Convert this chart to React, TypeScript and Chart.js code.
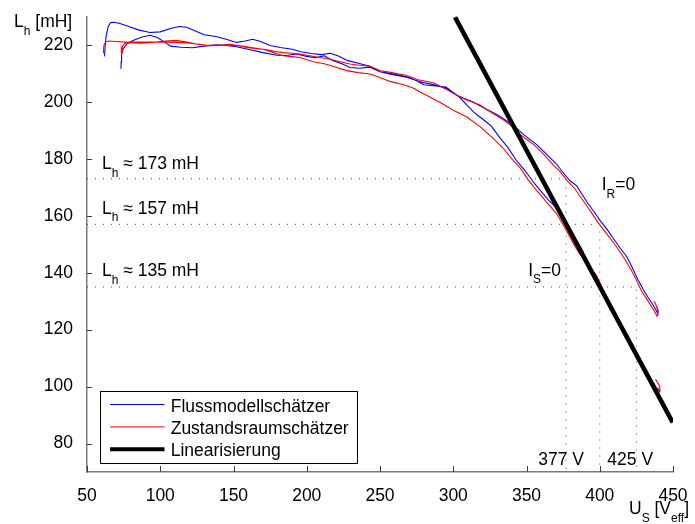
import React, { useEffect, useRef } from 'react';
import { Chart, registerables } from 'chart.js';

Chart.register(...registerables);

const FONT = '"Liberation Sans", Arial, Helvetica, sans-serif';
const MAIN_SIZE = 17.5;
const SUB_SIZE = 12;

// ---------- axes ----------
const xTicks = [50, 100, 150, 200, 250, 300, 350, 400, 450];
const yTicks = [80, 100, 120, 140, 160, 180, 200, 220];
const xRange = [50, 450];
const yRange = [70, 230];

const seriesNames = ['Flussmodellschätzer', 'Zustandsraumschätzer', 'Linearisierung'];

// ---------- Flussmodellschätzer (blue), two traces ----------
const fluss1: [number, number][] = [
  [62.0, 216.0], [62.3, 219.0], [63.0, 223.0], [64.5, 226.5], [66, 227.8], [68, 228.0], [72, 227.6],
  [78, 226.6], [85, 225.3], [93, 224.4], [100, 224.6], [107, 225.8], [113, 226.5], [118, 226.2],
  [124, 224.9], [130, 223.6], [138, 223.0], [145, 222.0], [152, 220.9], [158, 221.4], [163, 222.0],
  [168, 221.3], [175, 219.8], [182, 219.1], [190, 218.5], [196, 217.6], [203, 217.0], [210, 216.6],
  [216, 217.1], [222, 216.0], [228, 214.5], [236, 213.5], [243, 212.5], [250, 210.6], [258, 210.0],
  [265, 209.2], [270, 208.6], [276, 207.2], [280, 206.0], [288, 205.6], [295, 205.2], [300, 203.3],
  [304, 201.8], [310, 198.5], [314, 196.4], [318, 194.8], [322, 193.2], [326, 191.5], [332, 187.3],
  [337, 184.2], [343, 179.5], [348, 176.5], [352, 173.8], [356, 171.0], [360, 168.6], [365, 165.5],
  [370, 163.0], [373, 161.5], [377, 158.0], [380, 155.0], [384, 151.5], [388, 148.0], [392, 143.5],
  [396, 139.8], [400, 135.4], [405, 131.0], [410, 126.2], [415, 121.5], [420, 116.8], [425, 112.0],
  [430, 107.0], [434, 103.3], [437.5, 100.0], [440, 97.6], [441, 98.5], [439.5, 99.6],
];
const fluss2: [number, number][] = [
  [73.2, 211.6], [73.3, 214.0], [73.6, 216.5], [74.6, 218.6], [77, 220.2], [81, 221.5], [87, 222.7],
  [93, 223.4], [98, 222.6], [103, 221.0], [107, 219.6], [114, 219.2], [122, 219.0], [130, 219.6],
  [138.7, 220.1], [145, 219.8], [152, 219.4], [160, 218.5], [170, 217.3], [179.7, 216.4], [186, 216.3],
  [193, 216.8], [200, 216.0], [206, 215.5], [212, 216.2], [218, 214.5], [224, 213.4], [229.5, 212.1],
  [236, 211.8], [243, 212.2], [250, 210.6], [258, 209.6], [268, 208.7], [278, 207.0], [288.7, 205.8],
  [296, 204.5], [303, 202.2], [313.5, 200.0], [322, 197.6], [330, 195.5], [340.8, 191.9], [348, 188.5],
  [357, 185.0], [364, 181.5], [370.6, 178.1], [376, 174.5], [379.7, 172.3], [384.3, 170.5], [388, 167.5],
  [392, 164.3], [396, 161.5], [400.2, 158.4], [405, 155.2], [410, 151.5], [414, 148.6], [418.4, 145.7],
  [422, 142.0], [426, 137.6], [429.7, 134.1], [433, 131.3], [436, 128.9], [438.3, 127.0], [439.5, 125.7],
  [439.8, 126.6], [439, 127.8],
];

// ---------- Zustandsraumschätzer (red), two traces ----------
const zustand1: [number, number][] = [
  [61.6, 217.2], [61.3, 219.0], [61.8, 220.3], [62.8, 221.0], [64.5, 221.4], [70, 221.2], [78, 220.9],
  [86, 220.6], [93, 220.8], [100, 221.2], [106, 221.5], [111, 221.6], [118, 221.0], [124, 220.4],
  [129.4, 220.0], [136, 219.9], [142, 220.0], [147.6, 220.2], [153, 219.7], [159, 219.1], [165.8, 218.7],
  [172, 218.4], [178, 217.8], [183.8, 217.3], [190, 217.1], [195.4, 216.8], [202, 216.2], [208, 215.7],
  [215.9, 215.0], [222, 214.2], [229.5, 213.3], [236, 212.9], [243.2, 212.5], [250, 211.0], [258, 210.3],
  [268.2, 209.3], [276, 207.8], [286.4, 206.7], [294, 204.8], [302.4, 202.3], [310, 200.5], [318.3, 198.9],
  [326, 196.3], [334, 193.8], [340, 191.4], [347, 188.0], [355, 185.0], [362, 181.5], [368, 178.0],
  [373, 175.5], [378, 172.2], [383, 169.5], [387, 166.5], [391, 163.6], [395, 160.6], [399, 157.5],
  [404, 154.2], [409, 150.8], [413, 148.0], [417, 144.8], [421, 141.4], [425, 137.4], [428.5, 133.6],
  [432, 130.8], [435, 128.4], [437.5, 126.4], [439, 124.8], [439.8, 125.2], [439.6, 127.0], [438, 129.2],
  [436.8, 130.0],
];
const zustand2: [number, number][] = [
  [73.7, 217.3], [73.4, 218.8], [74.0, 217.5], [74.2, 219.6], [76, 220.6], [79.4, 221.0], [86, 221.0],
  [93, 221.0], [104.4, 221.0], [112, 220.9], [120.3, 220.6], [127, 220.2], [134, 219.7], [143, 219.8],
  [152.2, 219.9], [160, 219.3], [170.3, 218.5], [177, 217.4], [183.8, 216.2], [190, 215.9], [195.4, 215.6],
  [204.5, 214.1], [212, 213.4], [220, 212.2], [227.3, 211.0], [235, 210.3], [243.2, 209.8], [250, 208.6],
  [256.8, 207.2], [265, 206.2], [272.7, 204.9], [278, 203.3], [284.1, 201.7], [292, 199.5], [300, 197.1],
  [309, 194.8], [318.3, 191.3], [326, 187.8], [334, 183.8], [340, 180.0], [345.6, 176.9], [351, 172.8],
  [357, 168.8], [363, 165.2], [370.6, 160.7], [376, 156.0], [382, 150.3], [386, 146.8], [390, 144.3],
  [394, 141.5], [398, 138.8], [402, 134.3], [406, 130.4], [410, 126.6], [414, 122.6], [418, 118.8],
  [422, 115.2], [426, 111.4], [430, 107.5], [434, 103.8], [437, 101.2], [439, 99.2], [440.5, 98.4],
  [441, 100.0], [439.5, 101.5], [438, 102.6],
];

// ---------- Linearisierung ----------
const linX = [301.2, 449.8];
const linY = [229.8, 87.4];

// ---------- guide lines: level [mH] at voltage [V] ----------
const guideLevels = [173, 157, 135];
const guideVoltages = [377, 400, 425];

// ---------- text annotations ----------
type Part = [string, boolean];
const annotations: { x: number; y: number; parts: Part[] }[] = [
  { x: 60.2, y: 176.3, parts: [['L', false], ['h', true], [' ≈ 173 mH', false]] },
  { x: 60.2, y: 160.8, parts: [['L', false], ['h', true], [' ≈ 157 mH', false]] },
  { x: 60.2, y: 138.8, parts: [['L', false], ['h', true], [' ≈ 135 mH', false]] },
  { x: 401.3, y: 169.0, parts: [['I', false], ['R', true], ['=0', false]] },
  { x: 351.2, y: 139.0, parts: [['I', false], ['S', true], ['=0', false]] },
  { x: 358.0, y: 72.3, parts: [['377 V', false]] },
  { x: 405.2, y: 72.3, parts: [['425 V', false]] },
];

const toPts = (a: [number, number][]) => a.map(([x, y]) => ({ x, y }));
const joinTraces = (a: [number, number][], b: [number, number][]) => [
  ...toPts(a),
  { x: a[a.length - 1][0], y: null as any },
  ...toPts(b),
];

function rich(ctx: CanvasRenderingContext2D, x: number, y: number, parts: Part[]) {
  let cx = x;
  for (const [t, sub] of parts) {
    ctx.font = `${sub ? SUB_SIZE : MAIN_SIZE}px ${FONT}`;
    ctx.fillText(t, cx, sub ? y + 7.5 : y);
    cx += ctx.measureText(t).width;
  }
}

const overlay = {
  id: 'overlay',
  afterDraw(chart: any) {
    const ctx: CanvasRenderingContext2D = chart.ctx;
    const xs = chart.scales.x;
    const ys = chart.scales.y;
    const area = chart.chartArea;
    ctx.save();
    // inward ticks
    ctx.strokeStyle = '#3a3a3a';
    ctx.lineWidth = 1;
    ctx.beginPath();
    for (const v of yTicks) {
      const p = Math.round(ys.getPixelForValue(v)) + 0.5;
      ctx.moveTo(area.left, p);
      ctx.lineTo(area.left + 5, p);
    }
    for (const v of xTicks) {
      const p = Math.round(xs.getPixelForValue(v)) + 0.5;
      ctx.moveTo(p, area.bottom);
      ctx.lineTo(p, area.bottom - 6);
    }
    ctx.stroke();

    // axis titles
    ctx.fillStyle = '#000';
    ctx.textAlign = 'left';
    ctx.textBaseline = 'alphabetic';
    rich(ctx, 14, 27, [['L', false], ['h', true], [' [mH]', false]]);
    rich(ctx, 629, 514, [['U', false], ['S', true], [' [V', false], ['eff', true], [']', false]]);

    // annotations
    for (const a of annotations) {
      rich(ctx, xs.getPixelForValue(a.x), ys.getPixelForValue(a.y), a.parts);
    }

    // legend
    const bx = 100.5, by = 391.5, bw = 257, bh = 72;
    ctx.fillStyle = '#fff';
    ctx.fillRect(bx, by, bw, bh);
    ctx.strokeStyle = '#000';
    ctx.lineWidth = 1;
    ctx.strokeRect(bx, by, bw, bh);
    const ds = chart.data.datasets;
    const rows = [0, 1, 2];
    rows.forEach((i) => {
      const ly = 404.5 + i * 22.4;
      ctx.strokeStyle = ds[i].borderColor;
      ctx.lineWidth = i === 2 ? 4 : 1;
      ctx.beginPath();
      ctx.moveTo(110, ly);
      ctx.lineTo(164.5, ly);
      ctx.stroke();
      ctx.fillStyle = '#000';
      ctx.font = `${MAIN_SIZE}px ${FONT}`;
      ctx.fillText(seriesNames[i], 170.7, ly + 7);
    });
    ctx.restore();
  },
};

export default function App() {
  const ref = useRef<HTMLCanvasElement>(null);
  useEffect(() => {
    if (!ref.current) return;
    const guideData: any[] = [];
    guideLevels.forEach((lvl, i) => {
      const v = guideVoltages[i];
      guideData.push({ x: xRange[0], y: lvl }, { x: v, y: lvl }, { x: v, y: yRange[0] }, { x: v, y: null });
    });
    const chart = new Chart(ref.current, {
      type: 'line',
      data: {
        datasets: [
          {
            label: seriesNames[0],
            data: joinTraces(fluss1, fluss2),
            borderColor: '#0000ff',
            borderWidth: 1.1,
            pointRadius: 0,
            spanGaps: false,
            order: 2,
          },
          {
            label: seriesNames[1],
            data: joinTraces(zustand1, zustand2),
            borderColor: '#ff0000',
            borderWidth: 1.1,
            pointRadius: 0,
            spanGaps: false,
            order: 1,
          },
          {
            label: seriesNames[2],
            data: linX.map((x, i) => ({ x, y: linY[i] })),
            borderColor: '#000000',
            borderWidth: 4.5,
            pointRadius: 0,
            order: 0,
          },
          {
            label: 'guides',
            data: guideData,
            borderColor: '#444444',
            borderWidth: 1,
            borderDash: [1, 7],
            pointRadius: 0,
            spanGaps: false,
            order: 3,
          },
        ],
      },
      options: {
        animation: false,
        responsive: false,
        devicePixelRatio: 1,
        parsing: true as any,
        layout: { padding: { left: 0, top: 10, right: 22, bottom: 0 } },
        plugins: { legend: { display: false }, tooltip: { enabled: false } },
        scales: {
          x: {
            type: 'linear',
            min: xRange[0],
            max: xRange[1],
            afterBuildTicks: (s: any) => {
              s.ticks = xTicks.map((value) => ({ value }));
            },
            afterFit: (s: any) => {
              s.height = 52;
            },
            grid: { display: false },
            border: { display: true, color: '#7a7a7a', width: 1.5 },
            ticks: { color: '#000', padding: 6, font: { family: FONT, size: MAIN_SIZE }, maxRotation: 0 },
          },
          y: {
            type: 'linear',
            min: yRange[0],
            max: yRange[1],
            afterBuildTicks: (s: any) => {
              s.ticks = yTicks.map((value) => ({ value }));
            },
            afterFit: (s: any) => {
              s.width = 87;
            },
            grid: { display: false },
            border: { display: true, color: '#7a7a7a', width: 1.5 },
            ticks: { color: '#000', padding: 6, font: { family: FONT, size: MAIN_SIZE } },
          },
        },
      } as any,
      plugins: [overlay],
    });
    return () => chart.destroy();
  }, []);
  return (
    <div style={{ position: 'absolute', left: 0, top: 0, width: 695, height: 524, background: '#fff' }}>
      <canvas ref={ref} width={695} height={524} style={{ display: 'block' }} />
    </div>
  );
}
